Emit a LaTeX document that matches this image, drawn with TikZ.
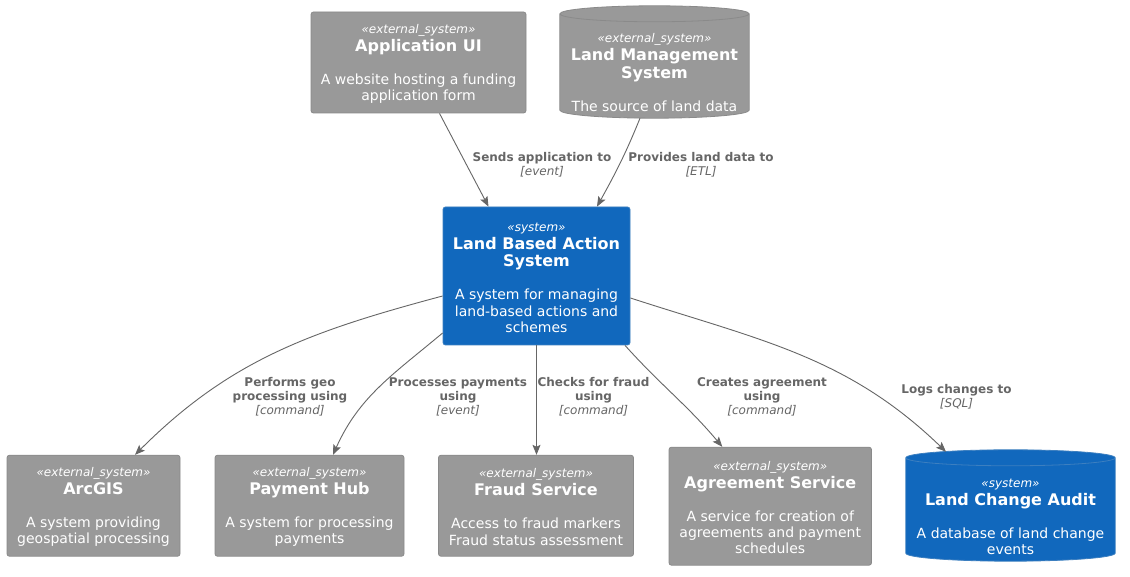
\documentclass[tikz,border=0pt]{standalone}
\usepackage{fontspec}
\setmainfont{DejaVu Sans}
\usetikzlibrary{arrows.meta,backgrounds,calc}

\definecolor{extgray}{HTML}{999999}
\definecolor{extline}{HTML}{8A8A8A}
\definecolor{sysblue}{HTML}{1168BD}
\definecolor{sysline}{HTML}{3C7FC0}
\definecolor{relgray}{HTML}{666666}

\def\stype#1{{\fontsize{12}{14}\selectfont\itshape «#1»}}
\def\btitle#1{{\fontsize{16}{18}\selectfont\bfseries #1}}
% cylinder drawn round a db node: node, fill, line
\def\dbcyl#1#2#3{%
  \filldraw[fill=#2, draw=#3, line width=0.8pt] let \p1=(#1.north west), \p2=(#1.south east) in
    (\x1,\y1-8pt) -- (\x1,\y2+8pt) arc[start angle=180, end angle=360, x radius={(\x2-\x1)/2}, y radius=8pt]
    -- (\x2,\y1-8pt) arc[start angle=0, end angle=180, x radius={(\x2-\x1)/2}, y radius=8pt] -- cycle
    (\x1,\y1-8pt) arc[start angle=180, end angle=360, x radius={(\x2-\x1)/2}, y radius=8pt];
}

\tikzset{
  box/.style={rectangle, rounded corners=2.5pt, align=center, text=white, inner sep=0pt, line width=0.8pt, font=\fontsize{14}{16.3}\selectfont},
  extbox/.style={box, fill=extgray, draw=extline},
  sysbox/.style={box, fill=sysblue, draw=sysline},
  dbnode/.style={rectangle, align=center, text=white, inner sep=0pt, font=\fontsize{14}{16.3}\selectfont},
  rel/.style={draw=relgray, line width=0.9pt, -{Stealth[length=10pt,width=8pt,inset=2pt]}},
  rellabel/.style={align=center, text=relgray, inner sep=0pt, font=\fontsize{12}{14}\selectfont},
}

\begin{document}
\begin{tikzpicture}[x=1pt,y=1pt]
	% White canvas, same size as the reference
	\begin{scope}[on background layer]
		\fill[white] (0,0) rectangle (1130,577);
	\end{scope}
	\useasboundingbox (0,0) rectangle (1130,577);

	% Top row: sources feeding the system
	\node[extbox, minimum width=215pt, minimum height=101pt] (appui) at (418.5,514.5) {\rule{0pt}{12pt}\stype{external\_system}\\[1.7pt] \btitle{Application UI}\\[16.7pt] A website hosting a funding\\ application form};
	\node[dbnode, minimum width=189pt, minimum height=112pt] (lms) at (654.5,515) {\rule{0pt}{30pt}\stype{external\_system}\\[1.7pt] \btitle{Land Management}\\[1.4pt] \btitle{System}\\[16.7pt] The source of land data};

	% The system itself
	\node[sysbox, minimum width=187pt, minimum height=138pt] (lbas) at (536.5,301) {\rule{0pt}{12pt}\stype{system}\\[1.7pt] \btitle{Land Based Action}\\[1.4pt] \btitle{System}\\[16.7pt] A system for managing\\ land-based actions and\\ schemes};

	% Bottom row: services it uses
	\node[extbox, minimum width=173pt, minimum height=101pt] (arcgis) at (93.5,71.25) {\rule{0pt}{12pt}\stype{external\_system}\\[1.7pt] \btitle{ArcGIS}\\[16.7pt] A system providing\\ geospatial processing};
	\node[extbox, minimum width=189pt, minimum height=101pt] (payhub) at (309.5,71.25) {\rule{0pt}{12pt}\stype{external\_system}\\[1.7pt] \btitle{Payment Hub}\\[16.7pt] A system for processing\\ payments};
	\node[extbox, minimum width=195pt, minimum height=101pt] (fraud) at (536,71.25) {\rule{0pt}{12pt}\stype{external\_system}\\[1.7pt] \btitle{Fraud Service}\\[16.7pt] Access to fraud markers\\ Fraud status assessment};
	\node[extbox, minimum width=202.5pt, minimum height=118pt] (agree) at (770.25,70.8) {\rule{0pt}{12pt}\stype{external\_system}\\[1.7pt] \btitle{Agreement Service}\\[16.7pt] A service for creation of\\ agreements and payment\\ schedules};
	\node[dbnode, minimum width=209pt, minimum height=111pt] (lca) at (1010.5,71.5) {\rule{0pt}{31pt}\stype{system}\\[1.7pt] \btitle{Land Change Audit}\\[16.7pt] A database of land change\\ events};

	% Cylinders behind the two databases
	\begin{scope}[on background layer]
		\dbcyl{lms}{extgray}{extline}
		\dbcyl{lca}{sysblue}{sysline}
	\end{scope}

	% Relations
	\draw[rel] ([xshift=21pt]appui.south) -- ([xshift=-48pt]lbas.north);
	\draw[rel] ([xshift=-14.5pt]lms.south) to[out=-112, in=61] ([xshift=60.5pt]lbas.north);
	\draw[rel] ([yshift=-20pt]lbas.west) to[out=195, in=45] ([xshift=41.5pt]arcgis.north);
	\draw[rel] ([yshift=-57pt]lbas.west) to[out=220, in=66] ([xshift=23.5pt]payhub.north);
	\draw[rel] (lbas.south) -- (lbas.south |- fraud.north);
	\draw[rel] ([xshift=88.5pt]lbas.south) to[out=-48, in=130] ([xshift=-48pt]agree.north);
	\draw[rel] ([yshift=-22pt]lbas.east) to[out=-18, in=136] ([xshift=-64.5pt,yshift=-2pt]lca.north);

	% Relation labels
	\node[rellabel] (sendslbl) at (542,412) {\textbf{Sends application to}\\ \textit{[event]}};
	\node[rellabel] (provideslbl) at (701,412) {\textbf{Provides land data to}\\ \textit{[ETL]}};
	\node[rellabel] (geolbl) at (290,180) {\textbf{Performs geo}\\ \textbf{processing using}\\ \textit{[command]}};
	\node[rellabel] (paylbl) at (458,180) {\textbf{Processes payments}\\ \textbf{using}\\ \textit{[event]}};
	\node[rellabel] (fraudlbl) at (593.5,180) {\textbf{Checks for fraud}\\ \textbf{using}\\ \textit{[command]}};
	\node[rellabel] (agreelbl) at (762,180) {\textbf{Creates agreement}\\ \textbf{using}\\ \textit{[command]}};
	\node[rellabel] (logslbl) at (956.5,180) {\textbf{Logs changes to}\\ \textit{[SQL]}};
\end{tikzpicture}
\end{document}
